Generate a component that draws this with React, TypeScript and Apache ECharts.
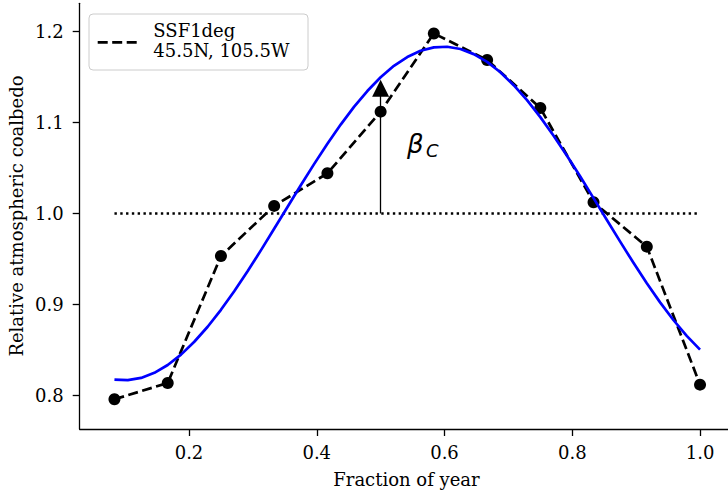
import React, { useEffect, useRef } from "react";
import * as echarts from "echarts";

// Monthly points (fraction of year) and relative atmospheric coalbedo
const monthX = [0.0833, 0.1667, 0.25, 0.3333, 0.4167, 0.5, 0.5833, 0.6667, 0.75, 0.8333, 0.9167, 1.0];
const monthY = [0.7956, 0.8135, 0.9532, 1.0083, 1.0442, 1.112, 1.198, 1.1689, 1.116, 1.0123, 0.9635, 0.8117];

// Blue fitted curve
const fitX = [0.0833, 0.1042, 0.125, 0.1458, 0.1667, 0.1875, 0.2083, 0.2292, 0.25, 0.2708, 0.2917, 0.3125,
  0.3333, 0.3542, 0.375, 0.3958, 0.4167, 0.4375, 0.4583, 0.4792, 0.5, 0.5208, 0.5417, 0.5625, 0.5833,
  0.6042, 0.625, 0.6458, 0.6667, 0.6875, 0.7083, 0.7292, 0.75, 0.7708, 0.7917, 0.8125, 0.8333, 0.8542,
  0.875, 0.8958, 0.9167, 0.9375, 0.9583, 0.9792, 1.0];
const fitY = [0.8173, 0.8166, 0.8191, 0.8247, 0.8333, 0.8447, 0.8589, 0.8754, 0.894, 0.9145, 0.9364, 0.9594,
  0.9831, 1.0071, 1.031, 1.0543, 1.0767, 1.0978, 1.1172, 1.1347, 1.1498, 1.1624, 1.1721, 1.179, 1.1827,
  1.1834, 1.1809, 1.1753, 1.1667, 1.1553, 1.1411, 1.1246, 1.106, 1.0855, 1.0636, 1.0406, 1.0169, 0.9929,
  0.969, 0.9457, 0.9233, 0.9022, 0.8828, 0.8653, 0.8502];

// Reference line and beta_C arrow
const refX = [0.0833, 1.0];
const refY = 1.0;
const arrowX = 0.5;
const arrowBase = 1.0;
const arrowTip = 1.147;

const xTicks = [0.2, 0.4, 0.6, 0.8, 1.0];
const yTicks = [0.8, 0.9, 1.0, 1.1, 1.2];

const legendLines = ["SSF1deg", "45.5N, 105.5W"];
const xName = "Fraction of year";
const yName = "Relative atmospheric coalbedo";

const SERIF = "DejaVu Serif";
const HEAD = 17;

export default function App() {
  const ref = useRef<HTMLDivElement>(null);
  useEffect(() => {
    document.body.style.margin = "0";
    const chart = echarts.init(ref.current!, null, { renderer: "svg" });
    const yPerPx = (1.2312 - 0.7629) / (429 - 3.3);
    const option: any = {
      animation: false,
      grid: { left: 79.7, right: 0, top: 3.3, bottom: 65, containLabel: false },
      xAxis: {
        type: "value",
        min: 0.0289,
        max: 1.0438,
        splitLine: { show: false },
        axisLine: { show: true, lineStyle: { color: "#000", width: 1.3 } },
        axisTick: { show: true, length: 7, customValues: xTicks, lineStyle: { color: "#000", width: 1.3 } },
        axisLabel: {
          customValues: xTicks,
          formatter: (v: number) => v.toFixed(1),
          fontSize: 18,
          fontFamily: SERIF,
          color: "#000",
          margin: 14,
        },
      },
      yAxis: {
        type: "value",
        min: 0.7629,
        max: 1.2312,
        splitLine: { show: false },
        axisLine: { show: true, lineStyle: { color: "#000", width: 1.3 } },
        axisTick: { show: true, length: 7, customValues: yTicks, lineStyle: { color: "#000", width: 1.3 } },
        axisLabel: {
          customValues: yTicks,
          formatter: (v: number) => v.toFixed(1),
          fontSize: 18,
          fontFamily: SERIF,
          color: "#000",
          margin: 16,
        },
      },
      series: [
        {
          type: "line",
          name: "ref",
          data: refX.map((x) => [x, refY]),
          showSymbol: false,
          symbol: "none",
          lineStyle: { color: "#000", width: 2.4, type: [2.4, 3.4], cap: "butt" },
          z: 2,
          silent: true,
        },
        {
          type: "line",
          name: "arrow",
          data: [],
          z: 3,
          markLine: {
            silent: true,
            symbol: ["none", "triangle"],
            symbolSize: HEAD,
            label: { show: false },
            lineStyle: { color: "#000", width: 1.3, type: "solid" },
            itemStyle: { color: "#000" },
            emphasis: { disabled: true },
            data: [
              [
                { coord: [arrowX, arrowBase] },
                { coord: [arrowX, arrowTip - (HEAD / 2) * yPerPx] },
              ],
            ],
          },
        },
        {
          type: "line",
          name: "SSF1deg",
          data: monthX.map((x, i) => [x, monthY[i]]),
          symbol: "circle",
          symbolSize: 12,
          showSymbol: true,
          itemStyle: { color: "#000" },
          lineStyle: { color: "#000", width: 2.7, type: [10, 4.5] },
          z: 4,
          silent: true,
        },
        {
          type: "line",
          name: "fit",
          data: fitX.map((x, i) => [x, fitY[i]]),
          smooth: false,
          showSymbol: false,
          symbol: "none",
          lineStyle: { color: "#0000ff", width: 2.7, join: "round" },
          z: 5,
          silent: true,
        },
      ],
      graphic: [
        {
          type: "rect",
          shape: { x: 89, y: 14, width: 219, height: 56, r: 4 },
          style: { fill: "rgba(255,255,255,0.8)", stroke: "#cccccc", lineWidth: 1 },
          z: 100,
        },
        {
          type: "line",
          shape: { x1: 97.7, y1: 42.3, x2: 136.7, y2: 42.3 },
          style: { stroke: "#000", lineWidth: 2.7, lineDash: [10, 4.5] },
          z: 101,
        },
        {
          type: "text",
          x: 153.3,
          y: 30,
          style: { text: legendLines[0], fontSize: 18, fontFamily: SERIF, fill: "#000", align: "left", verticalAlign: "middle" },
          z: 101,
        },
        {
          type: "text",
          x: 153.3,
          y: 50,
          style: { text: legendLines[1], fontSize: 18, fontFamily: SERIF, fill: "#000", align: "left", verticalAlign: "middle" },
          z: 101,
        },
        {
          type: "text",
          x: 406.5,
          y: 479,
          style: { text: xName, fontSize: 18, fontFamily: SERIF, fill: "#000", align: "center", verticalAlign: "middle" },
        },
        {
          type: "text",
          x: 16,
          y: 216,
          rotation: Math.PI / 2,
          style: { text: yName, fontSize: 18, fontFamily: SERIF, fill: "#000", align: "center", verticalAlign: "middle" },
        },
        {
          type: "text",
          x: 407,
          y: 144,
          style: { text: "β", fontSize: 26, fontFamily: "DejaVu Sans", fontStyle: "italic", fill: "#000", align: "left", verticalAlign: "middle" },
        },
        {
          type: "text",
          x: 426,
          y: 150,
          style: { text: "C", fontSize: 18, fontFamily: "DejaVu Sans", fontStyle: "italic", fill: "#000", align: "left", verticalAlign: "middle" },
        },
      ],
    };
    chart.setOption(option);
    return () => chart.dispose();
  }, []);
  return <div ref={ref} style={{ width: 728, height: 494, position: "absolute", left: 0, top: 0 }} />;
}
